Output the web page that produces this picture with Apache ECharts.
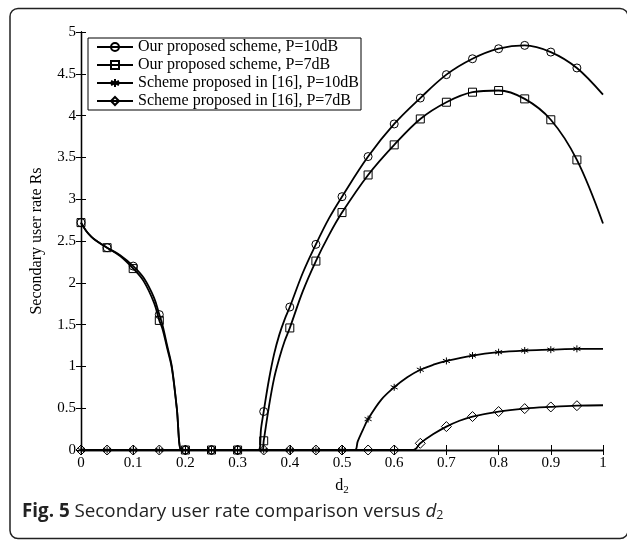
<!DOCTYPE html>
<html>
<head>
<meta charset="utf-8">
<script src="https://cdn.jsdelivr.net/npm/echarts@6/dist/echarts.min.js"></script>
<style>
  html, body { margin: 0; padding: 0; background: #fff; }
  #chart { width: 627px; height: 540px; }
</style>
</head>
<body>
<div id="chart"></div>
<script>
  // values
  const seriesNames = [
    'Our proposed scheme, P=10dB',
    'Our proposed scheme, P=7dB',
    'Scheme proposed in [16], P=10dB',
    'Scheme proposed in [16], P=7dB'
  ];

  const ourP10X = [0, 0.01, 0.02, 0.03, 0.05, 0.075, 0.1, 0.12, 0.14, 0.15, 0.156, 0.165, 0.174, 0.1835, 0.192,
    0.2, 0.25, 0.3, 0.34, 0.345, 0.35, 0.36, 0.37, 0.38, 0.39, 0.4, 0.425, 0.45, 0.475, 0.5,
    0.55, 0.6, 0.65, 0.7, 0.75, 0.8, 0.85, 0.9, 0.95, 1];
  const ourP10Y = [2.72, 2.62, 2.55, 2.5, 2.42, 2.33, 2.2, 2.06, 1.82, 1.62, 1.5, 1.25, 1.0, 0.5, 0,
    0, 0, 0, 0, 0.26, 0.46, 0.84, 1.15, 1.38, 1.56, 1.71, 2.12, 2.46, 2.77, 3.03,
    3.51, 3.9, 4.21, 4.49, 4.68, 4.8, 4.84, 4.76, 4.57, 4.25];

  const ourP7X = [0, 0.01, 0.02, 0.03, 0.05, 0.075, 0.1, 0.12, 0.14, 0.15, 0.156, 0.165, 0.174, 0.1835, 0.192,
    0.2, 0.25, 0.3, 0.347, 0.35, 0.36, 0.37, 0.38, 0.39, 0.4, 0.425, 0.45, 0.475, 0.5,
    0.55, 0.6, 0.65, 0.7, 0.75, 0.8, 0.85, 0.9, 0.95, 1];
  const ourP7Y = [2.72, 2.62, 2.55, 2.5, 2.42, 2.32, 2.17, 2.02, 1.76, 1.55, 1.45, 1.22, 0.98, 0.5, 0,
    0, 0, 0, 0, 0.11, 0.52, 0.86, 1.1, 1.3, 1.46, 1.9, 2.26, 2.57, 2.84,
    3.29, 3.65, 3.96, 4.16, 4.28, 4.3, 4.2, 3.95, 3.47, 2.71];

  const ref16P10X = [0, 0.05, 0.1, 0.15, 0.2, 0.25, 0.3, 0.35, 0.4, 0.45, 0.5, 0.525, 0.53, 0.54,
    0.55, 0.575, 0.6, 0.625, 0.65, 0.675, 0.7, 0.75, 0.8, 0.85, 0.9, 0.95, 1];
  const ref16P10Y = [0, 0, 0, 0, 0, 0, 0, 0, 0, 0, 0, 0, 0.1, 0.24,
    0.37, 0.6, 0.75, 0.87, 0.96, 1.02, 1.065, 1.13, 1.17, 1.19, 1.2, 1.21, 1.21];

  const ref16P7X = [0, 0.05, 0.1, 0.15, 0.2, 0.25, 0.3, 0.35, 0.4, 0.45, 0.5, 0.55, 0.6, 0.637,
    0.65, 0.675, 0.7, 0.725, 0.75, 0.8, 0.85, 0.9, 0.95, 1];
  const ref16P7Y = [0, 0, 0, 0, 0, 0, 0, 0, 0, 0, 0, 0, 0, 0,
    0.08, 0.19, 0.28, 0.35, 0.4, 0.46, 0.495, 0.515, 0.53, 0.535];

  const xTicks = { min: 0, max: 1, step: 0.1 };
  const yTicks = { min: 0, max: 5, step: 0.5 };

  const serif = 'Liberation Serif';
  const starPath = 'path://M5,0L5,10M0.7,2.5L9.3,7.5M0.7,7.5L9.3,2.5';

  // markers only every 0.05 (as in the matlab plot), up to 0.95
  function buildData(xs, ys) {
    return xs.map(function (x, i) {
      const k = x * 20;
      const onMark = Math.abs(k - Math.round(k)) < 1e-6 && x < 0.99;
      const item = { value: [x, ys[i]] };
      if (!onMark) item.symbol = 'none';
      return item;
    });
  }

  function makeSeries(name, xs, ys, symbol, size) {
    return {
      name: name,
      type: 'line',
      data: buildData(xs, ys),
      smooth: 0.35,
      symbol: symbol,
      symbolSize: size,
      showAllSymbol: true,
      lineStyle: { color: '#000', width: 1.8 },
      itemStyle: { color: 'rgba(0,0,0,0)', borderColor: '#000', borderWidth: 1 },
      emphasis: { disabled: true },
      animation: false
    };
  }

  const chart = echarts.init(document.getElementById('chart'));

  const tickStyle = { inside: true, length: 5, lineStyle: { color: '#000' } };
  const lineStyleAxis = { lineStyle: { color: '#000', width: 1.3 } };

  const option = {
    backgroundColor: '#fff',
    animation: false,
    grid: { left: 81, right: 24, top: 32, bottom: 90 },
    legend: {
      orient: 'vertical',
      left: 88,
      top: 38,
      padding: [1, 2, 1, 8],
      itemGap: 2,
      itemWidth: 36,
      itemHeight: 10,
      borderColor: '#000',
      borderWidth: 1,
      backgroundColor: '#fff',
      selectedMode: false,
      textStyle: { fontFamily: serif, fontSize: 16, lineHeight: 16, color: '#000' },
      data: seriesNames
    },
    xAxis: [{
      type: 'value',
      min: xTicks.min,
      max: xTicks.max,
      interval: xTicks.step,
      name: '{d|d}{s|2}',
      nameLocation: 'middle',
      nameGap: 26,
      nameTextStyle: {
        rich: {
          d: { fontFamily: serif, fontSize: 16, color: '#000' },
          s: { fontFamily: serif, fontSize: 11, color: '#000', verticalAlign: 'bottom', padding: [9, 0, 0, 0] }
        }
      },
      axisLine: lineStyleAxis,
      axisTick: tickStyle,
      axisLabel: { fontFamily: serif, fontSize: 15, color: '#000', margin: 6 },
      splitLine: { show: false }
    }, {
      type: 'value',
      position: 'top',
      min: xTicks.min,
      max: xTicks.max,
      interval: xTicks.step,
      axisLine: lineStyleAxis,
      axisTick: tickStyle,
      axisLabel: { show: false },
      splitLine: { show: false }
    }],
    yAxis: [{
      type: 'value',
      min: yTicks.min,
      max: yTicks.max,
      interval: yTicks.step,
      name: 'Secondary user rate Rs',
      nameLocation: 'middle',
      nameGap: 36,
      nameTextStyle: { fontFamily: serif, fontSize: 16, color: '#000' },
      axisLine: lineStyleAxis,
      axisTick: tickStyle,
      axisLabel: { fontFamily: serif, fontSize: 15, color: '#000', margin: 5 },
      splitLine: { show: false }
    }, {
      type: 'value',
      position: 'right',
      min: yTicks.min,
      max: yTicks.max,
      interval: yTicks.step,
      axisLine: lineStyleAxis,
      axisTick: tickStyle,
      axisLabel: { show: false },
      splitLine: { show: false }
    }],
    series: [
      makeSeries(seriesNames[0], ourP10X, ourP10Y, 'circle', 8),
      makeSeries(seriesNames[1], ourP7X, ourP7Y, 'rect', 8),
      makeSeries(seriesNames[2], ref16P10X, ref16P10Y, starPath, 7),
      makeSeries(seriesNames[3], ref16P7X, ref16P7Y, 'diamond', 10)
    ],
    graphic: [{
      type: 'rect',
      silent: true,
      shape: { x: 10, y: 8.5, width: 618, height: 530, r: 8 },
      style: { fill: 'none', stroke: '#222', lineWidth: 1.5 }
    }, {
      type: 'text',
      left: 22,
      top: 502,
      silent: true,
      style: {
        text: '{b|Fig. 5} Secondary user rate comparison versus {i|d}{s|2}',
        fontFamily: 'Open Sans',
        fontSize: 18.8,
        fill: '#222',
        rich: {
          b: { fontFamily: 'Open Sans', fontSize: 18.8, fontWeight: 'bold', fill: '#222' },
          i: { fontFamily: 'Open Sans', fontSize: 18.8, fontStyle: 'italic', fill: '#222' },
          s: { fontFamily: 'Open Sans', fontSize: 12.5, fill: '#222', verticalAlign: 'bottom', padding: [7, 0, 0, 0] }
        }
      }
    }]
  };

  chart.setOption(option);
</script>
</body>
</html>
